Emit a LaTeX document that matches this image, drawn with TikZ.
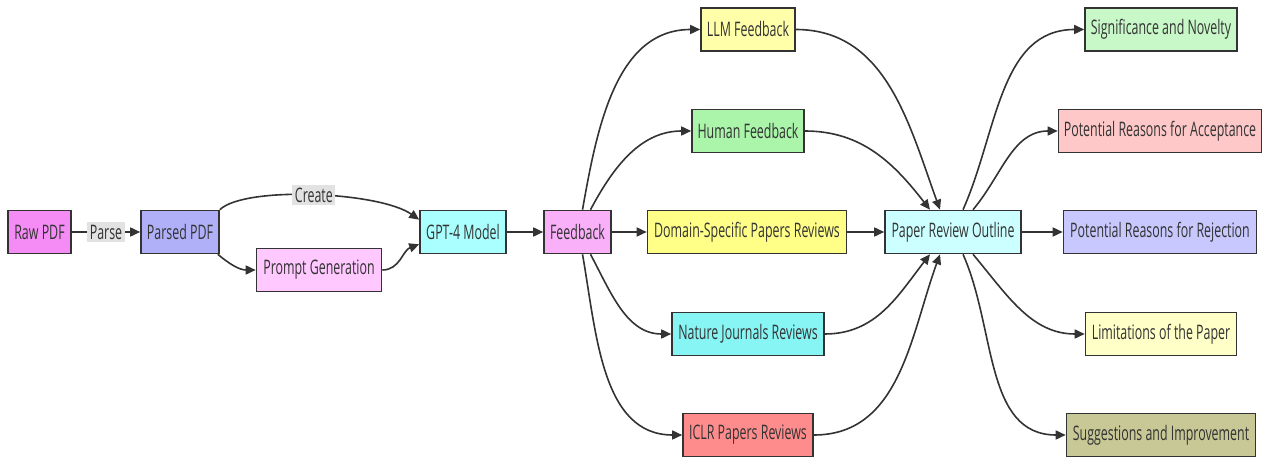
\documentclass[tikz,border=0pt]{standalone}
\usepackage{fontspec}
\setmainfont{Open Sans}[FakeStretch=0.62]
\usetikzlibrary{arrows.meta}
\definecolor{ink}{HTML}{333333}
\definecolor{lblgray}{HTML}{E2E2E2}
\definecolor{cRaw}{HTML}{F58CF5}
\definecolor{cParsed}{HTML}{B0B0F8}
\definecolor{cPrompt}{HTML}{FFC8FF}
\definecolor{cGpt}{HTML}{AAFFFF}
\definecolor{cFb}{HTML}{F9B0F9}
\definecolor{cDom}{HTML}{FFFF88}
\definecolor{cLlm}{HTML}{FFFFAA}
\definecolor{cHum}{HTML}{AAF5AA}
\definecolor{cNat}{HTML}{88F5F5}
\definecolor{cIclr}{HTML}{FF8C8C}
\definecolor{cPro}{HTML}{CCFFFF}
\definecolor{cSig}{HTML}{C8F8C8}
\definecolor{cAcc}{HTML}{FFC8C8}
\definecolor{cRej}{HTML}{C8C8FF}
\definecolor{cLim}{HTML}{FFFFC8}
\definecolor{cSug}{HTML}{C8C896}
\begin{document}
\begin{tikzpicture}[x=1pt,y=1pt,
  box/.style={draw=ink,line width=1.6pt,text=ink,inner sep=0pt,minimum height=43pt,font=\fontsize{20}{22}\selectfont},
  edge/.style={draw=ink,line width=1.6pt,-{Triangle[length=10pt,width=9pt]}},
  elabel/.style={fill=lblgray,text=ink,inner sep=2.5pt,font=\fontsize{20}{22}\selectfont}]
\useasboundingbox (0,0) rectangle (1263,458);
\node[box,fill=cRaw,minimum width=63pt] (raw) at (39.5,226) {Raw PDF};
\node[box,fill=cParsed,minimum width=78pt] (pp) at (180,226) {Parsed PDF};
\node[box,fill=cPrompt,minimum width=125pt] (prompt) at (319,188) {Prompt Generation};
\node[box,fill=cGpt,minimum width=86pt] (gpt) at (463,226) {GPT-4 Model};
\node[box,fill=cFb,minimum width=67pt] (fb) at (577.5,226) {Feedback};
\node[box,fill=cDom,minimum width=199pt] (dom) at (747,226) {Domain-Specific Papers Reviews};
\node[box,fill=cLlm,minimum width=94pt] (llm) at (748,428.5) {LLM Feedback};
\node[box,fill=cHum,minimum width=112pt] (hum) at (748,327) {Human Feedback};
\node[box,fill=cNat,minimum width=152pt] (nat) at (748,124) {Nature Journals Reviews};
\node[box,fill=cIclr,minimum width=130pt] (iclr) at (748,23) {ICLR Papers Reviews};
\node[box,fill=cPro,minimum width=136pt] (pro) at (953,226) {Paper Review Outline};
\node[box,fill=cSig,minimum width=152pt] (sig) at (1161,428.5) {Significance and Novelty};
\node[box,fill=cAcc,minimum width=203pt] (acc) at (1160,327) {Potential Reasons for Acceptance};
\node[box,fill=cRej,minimum width=193pt] (rej) at (1160,226) {Potential Reasons for Rejection};
\node[box,fill=cLim,minimum width=151pt] (lim) at (1161,124) {Limitations of the Paper};
\node[box,fill=cSug,minimum width=189pt] (sug) at (1161,23) {Suggestions and Improvement};
% edges
\draw[edge] (raw) -- node[elabel] {Parse} (pp);
\draw[edge] (pp.north east) .. controls +(25,24) and +(-40,28) .. node[elabel,pos=0.5] {Create} ([yshift=-10]gpt.north west);
\draw[edge] ([xshift=-2]pp.south east) to[out=-40,in=180] (prompt.west);
\draw[edge] (prompt.east) to[out=0,in=200] ([yshift=10]gpt.south west);
\draw[edge] (gpt) -- (fb);
\draw[edge] (fb) -- (dom);
\draw[edge] ([xshift=5]fb.north) to[out=80,in=180] (llm.west);
\draw[edge] ([xshift=13]fb.north) to[out=62,in=180] (hum.west);
\draw[edge] ([xshift=13]fb.south) to[out=-62,in=180] (nat.west);
\draw[edge] ([xshift=5]fb.south) to[out=-80,in=180] (iclr.west);
\draw[edge] (dom) -- (pro);
\draw[edge] (llm.east) to[out=0,in=110] ([xshift=-13]pro.north);
\draw[edge] (hum.east) to[out=0,in=128] ([xshift=-23]pro.north);
\draw[edge] (nat.east) to[out=0,in=-128] ([xshift=-23]pro.south);
\draw[edge] (iclr.east) to[out=0,in=-110] ([xshift=-13]pro.south);
\draw[edge] ([xshift=10]pro.north) to[out=66,in=180] (sig.west);
\draw[edge] ([xshift=20]pro.north) to[out=50,in=180] (acc.west);
\draw[edge] (pro) -- (rej);
\draw[edge] ([xshift=20]pro.south) to[out=-50,in=180] (lim.west);
\draw[edge] ([xshift=10]pro.south) to[out=-66,in=180] (sug.west);
\end{tikzpicture}
\end{document}
